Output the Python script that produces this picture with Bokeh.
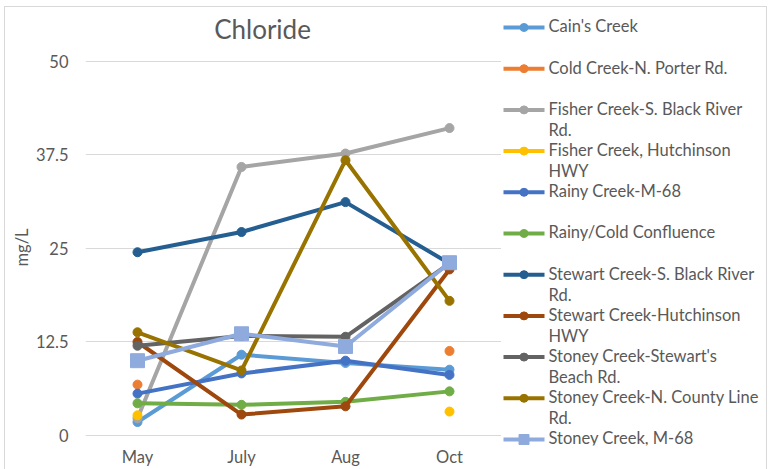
from bokeh.plotting import figure
from bokeh.layouts import row
from bokeh.models import FactorRange, Range1d, FixedTicker, ColumnDataSource, Label, Title
from bokeh.core.properties import value
from bokeh.embed import file_html
from bokeh.resources import INLINE

nan = float("nan")

months = ["May", "July", "Aug", "Oct"]

series_names = [
    "Cain's Creek",
    "Cold Creek-N. Porter Rd.",
    "Fisher Creek-S. Black River Rd.",
    "Fisher Creek, Hutchinson HWY",
    "Rainy Creek-M-68",
    "Rainy/Cold Confluence",
    "Stewart Creek-S. Black River Rd.",
    "Stewart Creek-Hutchinson HWY",
    "Stoney Creek-Stewart's Beach Rd.",
    "Stoney Creek-N. County Line Rd.",
    "Stoney Creek, M-68",
]
legend_labels = [
    "Cain's Creek",
    "Cold Creek-N. Porter Rd.",
    "Fisher Creek-S. Black River\nRd.",
    "Fisher Creek, Hutchinson\nHWY",
    "Rainy Creek-M-68",
    "Rainy/Cold Confluence",
    "Stewart Creek-S. Black River\nRd.",
    "Stewart Creek-Hutchinson\nHWY",
    "Stoney Creek-Stewart's\nBeach Rd.",
    "Stoney Creek-N. County Line\nRd.",
    "Stoney Creek, M-68",
]

cains_creek = [1.8, 10.8, 9.7, 8.8]
cold_creek = [6.8, nan, nan, 11.3]
fisher_sbr = [2.3, 35.9, 37.7, 41.1]
fisher_hutch = [2.7, nan, nan, 3.2]
rainy_m68 = [5.6, 8.3, 10.0, 8.1]
rainy_cold = [4.3, 4.1, 4.5, 5.9]
stewart_sbr = [24.5, 27.2, 31.2, 23.0]
stewart_hutch = [12.5, 2.8, 3.9, 22.2]
stoney_sb = [12.0, 13.3, 13.2, 23.0]
stoney_ncl = [13.8, 8.7, 36.8, 18.0]
stoney_m68 = [10.0, 13.6, 11.9, 23.1]

series_values = [cains_creek, cold_creek, fisher_sbr, fisher_hutch, rainy_m68,
                 rainy_cold, stewart_sbr, stewart_hutch, stoney_sb, stoney_ncl,
                 stoney_m68]

colors = ["#5B9BD5", "#ED7D31", "#A5A5A5", "#FFC000", "#4472C4", "#70AD47",
          "#255E91", "#9E480E", "#636363", "#997300", "#8FAADC"]
markers = ["circle"] * 10 + ["square"]
marker_sizes = [9] * 10 + [14]
legend_marker_sizes = [8] * 10 + [10]

y_ticks = [0, 12.5, 25, 37.5, 50]
y_tick_labels = ["0", "12.5", "25", "37.5", "50"]
chart_title = "Chloride"
y_label = "mg/L"

FONT = "Lato"
TEXT = "#595959"
GRID = "#D9D9D9"
FS = "16.5px"

# main plot: frame covers the full height so the legend panel (aligned) is not clipped
p = figure(
    x_range=FactorRange(factors=months, range_padding=0),
    y_range=Range1d(-1.337, 57.219),
    width=496, height=462, title=None,
    min_border_left=80, min_border_right=0, min_border_top=0, min_border_bottom=24,
    output_backend="svg", toolbar_location=None,
)
p.outline_line_color = None
p.background_fill_color = "white"
p.border_fill_color = "white"

p.add_layout(Label(x=1.702, y=54.41, text=chart_title, text_align="center",
                   text_baseline="middle", text_font=FONT, text_font_size="26px",
                   text_color=TEXT))
# value-axis title, placed in the left panel next to the tick labels
p.add_layout(Title(text=y_label, align="left", offset=179, standoff=2,
                   text_font=FONT, text_font_size=FS, text_font_style="normal",
                   text_color=TEXT), "left")

p.xgrid.grid_line_color = None
p.ygrid.grid_line_color = GRID
p.ygrid.grid_line_width = 1

p.yaxis.ticker = FixedTicker(ticks=y_ticks)
p.yaxis.major_label_overrides = {t: l for t, l in zip(y_ticks, y_tick_labels)}
p.yaxis.major_label_standoff = 17
for ax in (p.xaxis, p.yaxis):
    ax.axis_line_color = None
    ax.major_tick_line_color = None
    ax.minor_tick_line_color = None
    ax.major_tick_out = 0
    ax.major_tick_in = 0
    ax.major_label_text_font = FONT
    ax.major_label_text_font_size = FS
    ax.major_label_text_color = TEXT
p.xaxis.major_label_standoff = 1

for name, vals, col, mk, ms in zip(series_names, series_values, colors, markers, marker_sizes):
    src = ColumnDataSource(dict(x=months, y=vals))
    p.line("x", "y", source=src, line_color=col, line_width=4)
    p.scatter("x", "y", source=src, marker=mk, size=ms, fill_color=col, line_color=col)

# legend panel
idx = list(range(len(series_names)))
q = figure(
    width=265, height=462, title=None,
    x_range=Range1d(0, 265), y_range=Range1d(10.146, -0.485),
    min_border_left=0, min_border_right=0, min_border_top=0, min_border_bottom=24,
    output_backend="svg", toolbar_location=None,
    x_axis_location=None, y_axis_location=None,
)
q.outline_line_color = None
q.xgrid.visible = False
q.ygrid.visible = False
lsrc = ColumnDataSource(dict(y=idx, color=colors, marker=markers, size=legend_marker_sizes,
                             label=legend_labels))
q.segment(x0=2, x1=43, y0="y", y1="y", source=lsrc, line_color="color", line_width=4)
q.scatter(x=22.5, y="y", source=lsrc, marker="marker", size="size",
          fill_color="color", line_color="color")
q.text(x=47, y="y", text="label", source=lsrc, text_font=value(FONT),
       text_font_size=FS, text_color=TEXT, text_baseline="top",
       text_align="left", y_offset=-11, text_line_height=1.05)

layout = row(p, q, styles={"border": "1px solid #D9D9D9", "border-bottom": "none",
                           "margin": "6px 0px 0px 4px"})

open("out.html", "w").write(file_html(layout, INLINE))
